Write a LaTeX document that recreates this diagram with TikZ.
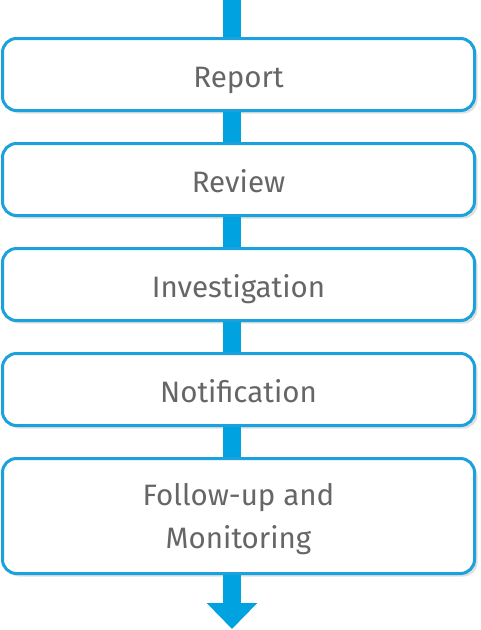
\documentclass[tikz,border=0pt]{standalone}
\usepackage{fontspec}
\setmainfont{Fira Sans}
\usetikzlibrary{positioning,arrows.meta,shadows}
\definecolor{stageblue}{HTML}{1BA1DB}
\definecolor{barblue}{HTML}{00A3E0}
\definecolor{stagetext}{HTML}{666666}
\begin{document}
\begin{tikzpicture}[x=1pt, y=1pt, node distance=30pt,
	stage/.style={draw=stageblue, line width=3pt, fill=white, rounded corners=14pt,
		minimum width=472pt, minimum height=72pt, align=center, text=stagetext,
		font=\fontsize{29.5}{43}\selectfont, text height=25pt, text depth=0pt,
		drop shadow={shadow xshift=3pt, shadow yshift=-3pt, fill=black!12, opacity=1}},
	bar/.style={draw=barblue, line width=18pt}]
	\useasboundingbox (0,0) rectangle (480,-630);
	%stages
	\node[stage] (report) at (238.5,-74.5) {Report};
	\node[stage, below=of report] (review) {Review};
	\node[stage, below=of review] (investigation) {Investigation};
	\node[stage, below=of investigation] (notification) {Notification};
	\node[stage, below=of notification, minimum height=115pt, text height={}, text depth={}] (followup) {\rule{0pt}{29pt}Follow-up and\\Monitoring};
	%connectors
	\coordinate (entry) at (232,0);
	\coordinate (exit) at (232,-629);
	\draw[bar] (entry) -- (entry |- report.north);
	\foreach \a/\b in {report/review, review/investigation, investigation/notification, notification/followup}
	\draw[bar] (entry |- \a.south) -- (entry |- \b.north);
	\draw[bar, -{Triangle[width=49pt, length=26pt]}] (exit |- followup.south) -- (exit);
\end{tikzpicture}
\end{document}
